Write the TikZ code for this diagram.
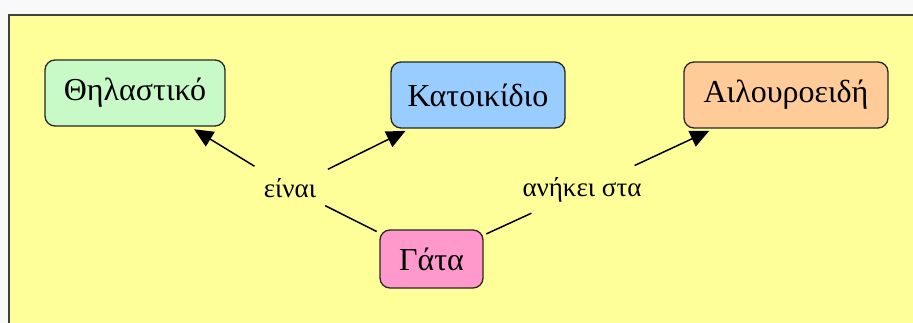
\documentclass[tikz,border=0pt]{standalone}
\usepackage{fontspec}
\setmainfont{Liberation Serif}
\usetikzlibrary{arrows.meta}
\definecolor{panelfill}{HTML}{FFFF99}
\definecolor{pagebg}{HTML}{F9F9F9}
\definecolor{mamfill}{HTML}{C8FAC8}
\definecolor{petfill}{HTML}{99CCFF}
\definecolor{felfill}{HTML}{FFCC99}
\definecolor{catfill}{HTML}{FF99CC}
\begin{document}
\begin{tikzpicture}[x=1pt,y=-1pt,
  concept/.style={draw=black!85, line width=1.3pt, rounded corners=10pt, minimum height=66pt, inner sep=0pt, font=\fontsize{32}{32}\selectfont},
  linklabel/.style={inner sep=0pt, font=\fontsize{27}{27}\selectfont},
  conn/.style={line width=1.5pt, shorten <=3pt},
  arr/.style={conn, -{Triangle[length=19pt,width=17pt]}, shorten >=5pt}]
\useasboundingbox (0,0) rectangle (913,323);
\fill[pagebg] (0,0) rectangle (913,323);
\fill[panelfill] (9,15) rectangle (913,323);
\draw[black!75, line width=2pt] (9,323) -- (9,15) -- (913,15);
\node[concept, fill=mamfill, minimum width=180pt] (mam) at (135,93) {Θηλαστικό};
\node[concept, fill=petfill, minimum width=174pt] (pet) at (478,95) {Κατοικίδιο};
\node[concept, fill=felfill, minimum width=204pt] (fel) at (786,95) {Αιλουροειδή};
\node[concept, fill=catfill, minimum width=103pt, minimum height=58pt] (cat) at (431.5,259) {Γάτα};
\node[linklabel, minimum width=70pt, minimum height=40pt] (isa) at (290,188) {είναι};
\node[linklabel, minimum height=46pt] (belongs) at (582,190) {ανήκει στα};
\draw[conn] (cat) -- (isa);
\draw[conn] (cat) -- (belongs);
\draw[arr] (isa) -- (mam);
\draw[arr] (isa) -- (pet);
\draw[arr] (belongs) -- (fel);
\end{tikzpicture}
\end{document}
